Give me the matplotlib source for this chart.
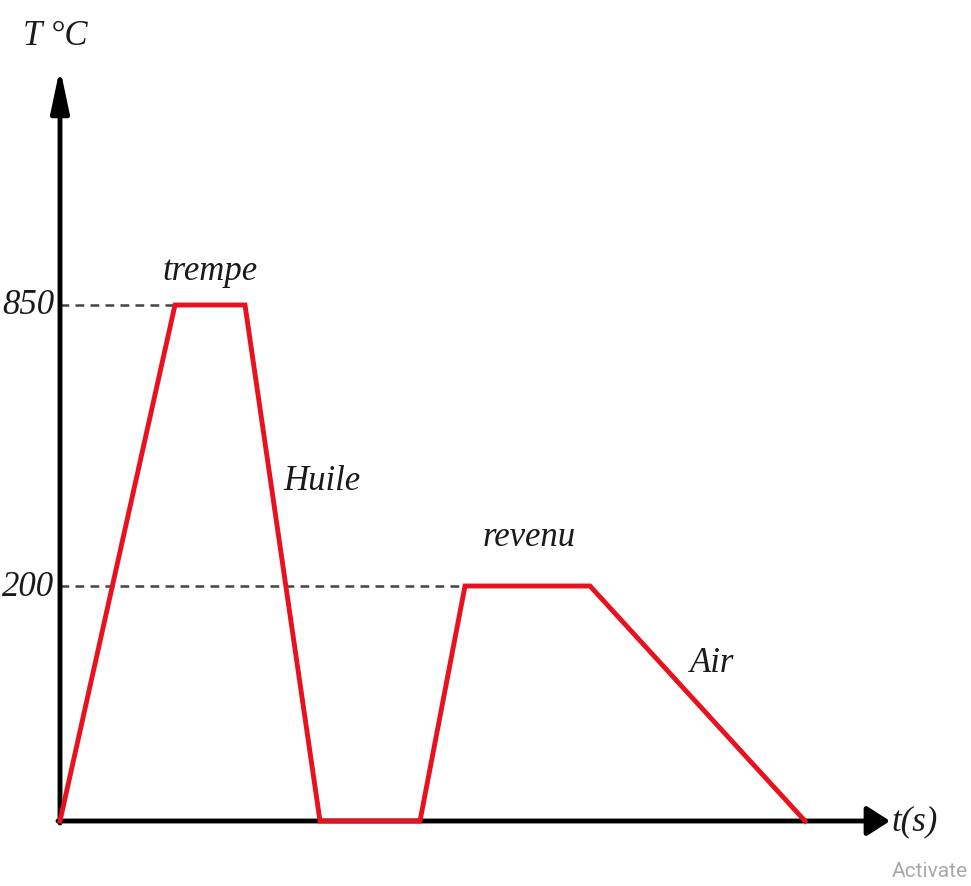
import matplotlib.pyplot as plt
import numpy as np

# heat treatment cycle (schematic): trempe 850 °C, huile, revenu 200 °C, air
t = [0, 115, 185, 260, 360, 405, 530, 745]
T = [0, 850, 850, 0, 0, 200, 200, 0]
levels = [200, 850]
level_labels = ['200', '850']

# the sketch is not to scale: piecewise mapping of the temperature axis
T_ref = np.array([0.0, 200.0, 850.0])
S_ref = np.array([0.0, 235.0, 516.0])


def fwd(v):
    v = np.asarray(v, dtype=float)
    out = np.interp(v, T_ref, S_ref)
    out = np.where(v < 0, v * (235.0 / 200.0), out)
    out = np.where(v > 850, 516.0 + (v - 850) * (281.0 / 650.0), out)
    return out


def inv(s):
    s = np.asarray(s, dtype=float)
    out = np.interp(s, S_ref, T_ref)
    out = np.where(s < 0, s * (200.0 / 235.0), out)
    out = np.where(s > 516, 850.0 + (s - 516) * (650.0 / 281.0), out)
    return out


fig = plt.figure(figsize=(9.71, 8.87), dpi=100)
ax = fig.add_axes([0, 0, 1, 1])
ax.set_yscale('function', functions=(fwd, inv))
ax.set_xlim(-60, 911)
ax.set_ylim(inv(-65), inv(822))
ax.axis('off')

red = '#e8121f'
serif = dict(family='Liberation Serif', style='italic', color='#1a1a1a')

# axes with arrows
ax.annotate('', xy=(830, 0), xytext=(-2, 0),
            arrowprops=dict(arrowstyle='-|>,head_length=1.4,head_width=0.9',
                            lw=3.5, color='black', shrinkA=0, shrinkB=0))
ax.annotate('', xy=(0, inv(753)), xytext=(0, inv(-2)),
            arrowprops=dict(arrowstyle='-|>,head_length=2.6,head_width=0.55',
                            lw=3.5, color='black', shrinkA=0, shrinkB=0))

# dashed guides to the plateaus
ax.plot([0, t[1]], [T[1], T[1]], ls=(0, (3.5, 2.5)), color='#444444', lw=1.8)
ax.plot([0, t[5]], [T[5], T[5]], ls=(0, (3.5, 2.5)), color='#444444', lw=1.8)

ax.plot(t, T, color=red, lw=3.5, solid_joinstyle='miter', zorder=3)

for lv, lab in zip(levels, level_labels):
    ax.text(-6, lv, lab, ha='right', va='center', fontsize=25, **serif)

ax.text(-5, inv(786), 'T °C', ha='center', va='center', fontsize=25, **serif)
ax.text(831, 0, 't(s)', ha='left', va='center', fontsize=25, **serif)
ax.text((t[1] + t[2]) / 2, inv(550), 'trempe', ha='center', va='center',
        fontsize=25, **serif)
ax.text(223, inv(340), 'Huile', ha='left', va='center', fontsize=25, **serif)
ax.text((t[5] + t[6]) / 2 + 2, inv(284), 'revenu', ha='center', va='center',
        fontsize=25, **serif)
ax.text(630, inv(158), 'Air', ha='left', va='center', fontsize=25, **serif)

ax.text(870, inv(-50), 'Activate', ha='center', va='center', fontsize=15,
        color='#a8a8a8', family='Roboto')

fig.savefig('out.png', dpi=100)
